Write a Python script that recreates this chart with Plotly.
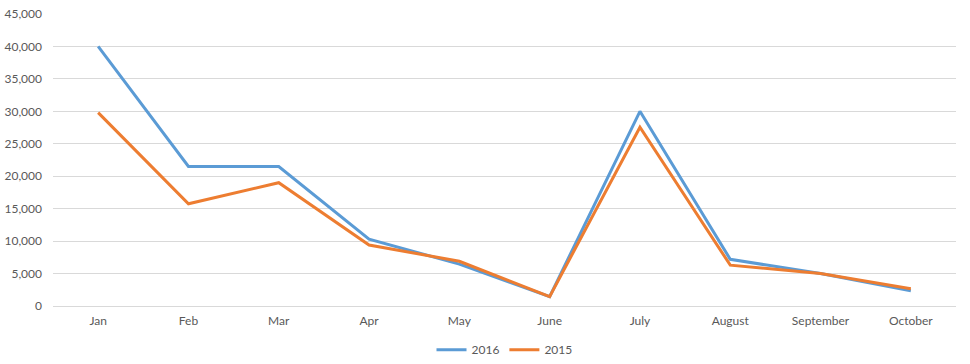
import plotly.graph_objects as go

months = ["Jan", "Feb", "Mar", "Apr", "May", "June", "July", "August", "September", "October"]
sales_2016 = [40000, 21500, 21500, 10300, 6450, 1450, 30000, 7200, 5000, 2350]
sales_2015 = [29800, 15750, 19000, 9400, 6900, 1450, 27550, 6300, 5000, 2650]
y_ticks = [0, 5000, 10000, 15000, 20000, 25000, 30000, 35000, 40000, 45000]

fig = go.Figure()
fig.add_trace(go.Scatter(x=months, y=sales_2016, name="2016", mode="lines",
                         line=dict(color="#5B9BD5", width=3)))
fig.add_trace(go.Scatter(x=months, y=sales_2015, name="2015", mode="lines",
                         line=dict(color="#ED7D31", width=3)))

fig.update_layout(
    width=970, height=364,
    margin=dict(l=53, r=14, t=14, b=58, autoexpand=False),
    paper_bgcolor="white", plot_bgcolor="white",
    font=dict(family="Lato, 'Open Sans', sans-serif", size=12, color="#595959"),
    showlegend=True,
    legend=dict(orientation="h", x=0.5, xanchor="center", y=-0.1, yanchor="top",
                font=dict(size=12, color="#595959"), tracegroupgap=0),
    xaxis=dict(showgrid=False, showline=False, zeroline=False, ticks="",
               range=[-0.5, 9.5], automargin=False, ticklabelstandoff=6,
               tickfont=dict(size=12, color="#595959")),
    yaxis=dict(range=[0, 45000], tickvals=y_ticks, tickformat=",",
               showgrid=True, gridcolor="#D9D9D9", gridwidth=1,
               zeroline=True, zerolinecolor="#D9D9D9", zerolinewidth=1,
               showline=False, ticks="", ticklabelstandoff=10, automargin=False,
               tickfont=dict(size=12, color="#595959")),
)

fig.write_html("out.html", config={"displayModeBar": False},
               post_script="document.body.style.margin='0';document.body.style.padding='0';")
